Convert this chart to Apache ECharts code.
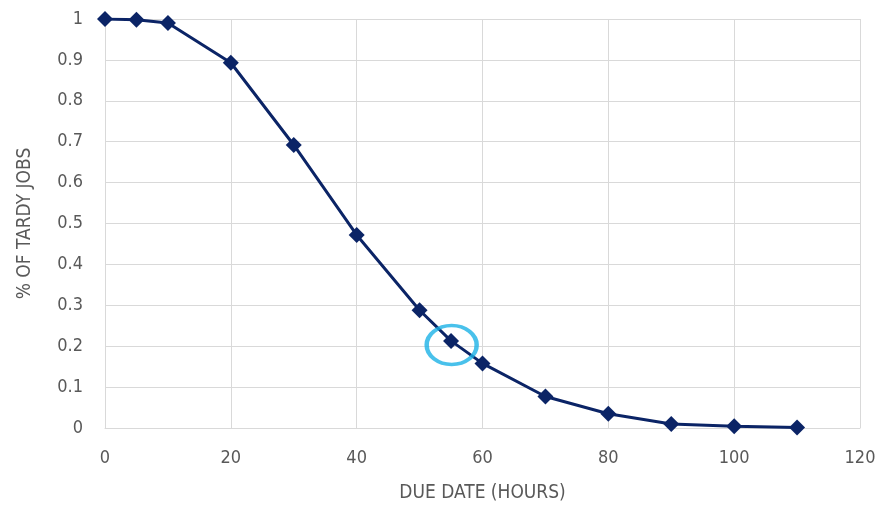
<!DOCTYPE html>
<html><head><meta charset="utf-8">
<script src="https://cdn.jsdelivr.net/npm/echarts@6/dist/echarts.min.js"></script>
<style>html,body{margin:0;padding:0;background:#fff}#c{width:881px;height:506px}</style>
</head><body><div id="c"></div>
<script>
var dueHours = [0, 5, 10, 20, 30, 40, 50, 55, 60, 70, 80, 90, 100, 110];
var tardyShare = [1, 0.998, 0.99, 0.893, 0.692, 0.472, 0.288, 0.213, 0.158, 0.077, 0.035, 0.01, 0.004, 0.001];
var highlightPoint = [[55.1, 0.203]];
var font = '"DejaVu Sans Condensed", "Liberation Sans", sans-serif';
var chart = echarts.init(document.getElementById('c'));
chart.setOption({
  animation: false,
  grid: {left: 105, right: 21, top: 19, bottom: 78, outerBoundsMode: 'none', containLabel: false},
  xAxis: {
    type: 'value', min: 0, max: 120, interval: 20,
    name: 'DUE DATE (HOURS)', nameLocation: 'middle', nameGap: 56,
    nameTextStyle: {color: '#595959', fontSize: 19, fontFamily: font},
    axisLine: {show: true, lineStyle: {color: '#d9d9d9'}},
    axisTick: {show: false},
    axisLabel: {color: '#595959', fontSize: 18, fontFamily: font, margin: 21},
    splitLine: {show: true, lineStyle: {color: '#d9d9d9', width: 1}}
  },
  yAxis: {
    type: 'value', min: 0, max: 1, interval: 0.1,
    name: '% OF TARDY JOBS', nameLocation: 'middle', nameGap: 70,
    nameTextStyle: {color: '#595959', fontSize: 19, fontFamily: font},
    axisLine: {show: false}, axisTick: {show: false},
    axisLabel: {color: '#595959', fontSize: 18, fontFamily: font, margin: 22,
      formatter: function (v) { return String(Math.round(v * 10) / 10); }},
    splitLine: {show: true, lineStyle: {color: '#d9d9d9', width: 1}}
  },
  series: [{
    type: 'line',
    data: dueHours.map(function (x, i) { return [x, tardyShare[i]]; }),
    symbol: 'diamond', symbolSize: 16,
    lineStyle: {color: '#0b2466', width: 3},
    itemStyle: {color: '#0b2466'}
  }, {
    type: 'scatter',
    data: highlightPoint,
    symbol: 'circle', symbolSize: [50, 39],
    itemStyle: {color: 'rgba(0,0,0,0)', borderColor: '#1cb1e6', borderWidth: 4},
    z: 5
  }]
});
</script></body></html>
